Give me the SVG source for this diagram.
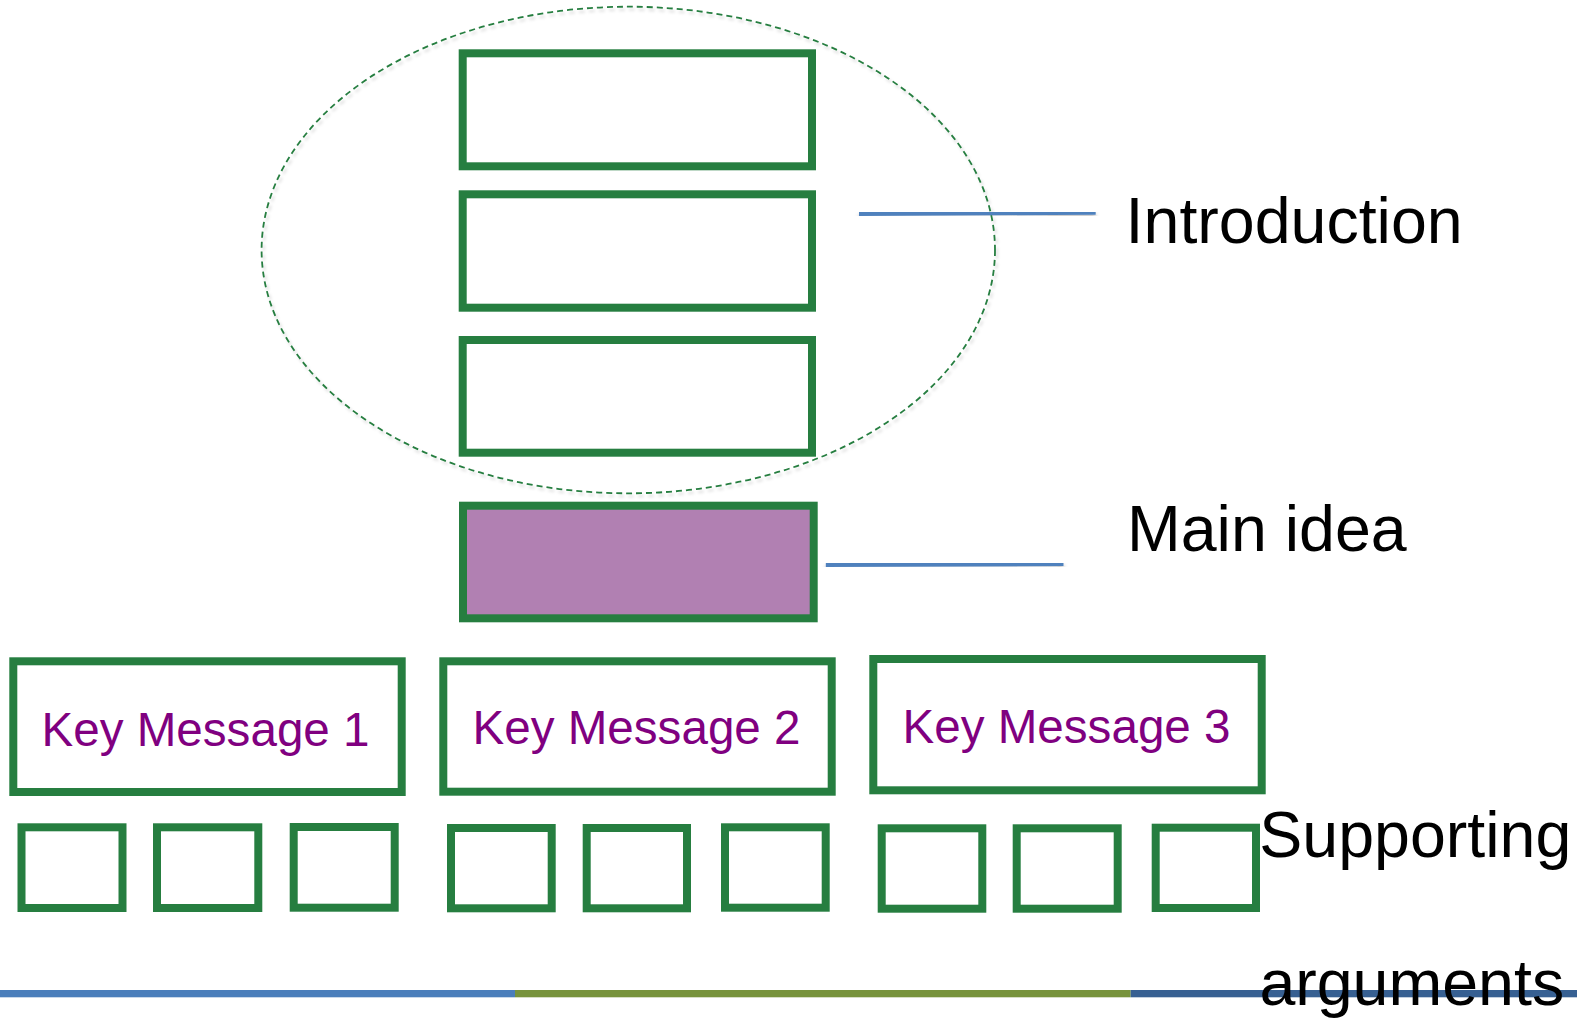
<svg xmlns="http://www.w3.org/2000/svg" width="1577" height="1023" viewBox="0 0 1577 1023">
  <defs>
    <filter id="shadow" x="-10%" y="-50%" width="120%" height="300%">
      <feDropShadow dx="0" dy="3" stdDeviation="2" flood-color="#000" flood-opacity="0.3"/>
    </filter>
    <filter id="eshadow" x="-5%" y="-5%" width="110%" height="110%">
      <feDropShadow dx="2" dy="3" stdDeviation="1.5" flood-color="#000" flood-opacity="0.15"/>
    </filter>
  </defs>
  <style>
    .box { fill: #ffffff; stroke: #267E40; stroke-width: 8; }
    .main { fill: #B180B2; stroke: #267E40; stroke-width: 8; }
    .km { font-family: "Liberation Sans", Arial, sans-serif; font-size: 47.6px; fill: #800080; text-anchor: middle; }
    .lbl { font-family: "Liberation Sans", Arial, sans-serif; font-size: 64.5px; fill: #000000; }
    .conn { stroke: #4F81BD; stroke-width: 4; fill: none; }
  </style>
  <rect width="1577" height="1023" fill="#ffffff"/>

  <g id="intro-group">
    <ellipse cx="628.3" cy="250" rx="366.7" ry="243.3" fill="none" stroke="#267E40" stroke-width="1.8" stroke-dasharray="6 4" filter="url(#eshadow)"/>
  </g>

  <g id="intro-1"><rect class="box" x="462.7" y="53.3" width="349.3" height="113"/></g>
  <g id="intro-2"><rect class="box" x="462.7" y="194.3" width="349.3" height="113.4"/></g>
  <g id="intro-3"><rect class="box" x="462.7" y="340" width="349.3" height="112.7"/></g>

  <g id="main-idea"><rect class="main" x="463" y="505.7" width="350.7" height="112.6"/></g>

  <g id="key-message-1">
    <rect class="box" x="13.3" y="661.3" width="388.4" height="130.7"/>
    <text class="km" x="205.5" y="746">Key Message 1</text>
  </g>
  <g id="key-message-2">
    <rect class="box" x="443.3" y="661.3" width="388.4" height="130.4"/>
    <text class="km" x="636.5" y="744.3">Key Message 2</text>
  </g>
  <g id="key-message-3">
    <rect class="box" x="873.3" y="659" width="388.4" height="131.3"/>
    <text class="km" x="1066.5" y="742.7">Key Message 3</text>
  </g>

  <g id="support-1-1"><rect class="box" x="21.5" y="827.3" width="101" height="80.7"/></g>
  <g id="support-1-2"><rect class="box" x="157" y="827.3" width="101.3" height="80.7"/></g>
  <g id="support-1-3"><rect class="box" x="293.7" y="827" width="101" height="80.7"/></g>
  <g id="support-2-1"><rect class="box" x="451" y="828" width="100.7" height="80.3"/></g>
  <g id="support-2-2"><rect class="box" x="586.7" y="828" width="100.3" height="80.3"/></g>
  <g id="support-2-3"><rect class="box" x="725" y="827.3" width="100.7" height="80.4"/></g>
  <g id="support-3-1"><rect class="box" x="881.7" y="828.3" width="100.6" height="80.4"/></g>
  <g id="support-3-2"><rect class="box" x="1016.7" y="828.3" width="101" height="80.4"/></g>
  <g id="support-3-3"><rect class="box" x="1155.7" y="827.7" width="100.3" height="80.3"/></g>

  <g id="connectors">
    <line class="conn" x1="859" y1="214" x2="1095.7" y2="212.7" filter="url(#shadow)"/>
    <line class="conn" x1="825.8" y1="565" x2="1063.5" y2="564" filter="url(#shadow)"/>
  </g>

  <g id="bottom-bar">
    <rect x="0" y="990" width="515" height="7.3" fill="#4A7EBB"/>
    <rect x="515" y="990" width="615.7" height="7.3" fill="#77933C"/>
    <rect x="1130.7" y="990" width="446.3" height="7.3" fill="#376092"/>
  </g>

  <g id="labels">
    <text class="lbl" x="1125.6" y="242.7">Introduction</text>
    <text class="lbl" x="1127" y="550.7">Main idea</text>
    <text class="lbl" x="1259.3" y="856.7">Supporting</text>
    <text class="lbl" x="1259.4" y="1005">arguments</text>
  </g>
</svg>
